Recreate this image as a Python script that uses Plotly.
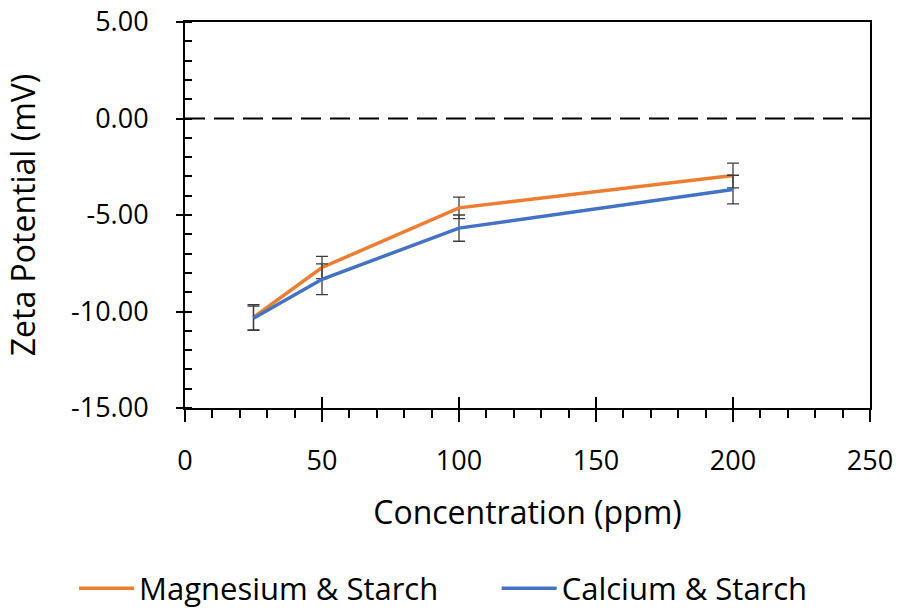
import plotly.graph_objects as go

concentration = [25, 50, 100, 200]
mg_starch = [-10.30, -7.72, -4.63, -2.95]
mg_err = [0.65, 0.58, 0.56, 0.64]
ca_starch = [-10.35, -8.33, -5.68, -3.68]
ca_err = [0.63, 0.80, 0.68, 0.74]
y_tick_values = [5, 0, -5, -10, -15]
y_tick_labels = ["5.00", "0.00", "-5.00", "-10.00", "-15.00"]

FONT = "Open Sans"
ORANGE = "#ED7D31"
BLUE = "#4472C4"
ERR = "#3c3c3c"

fig = go.Figure()
fig.add_trace(go.Scatter(
    x=concentration, y=mg_starch, mode="lines", name="Magnesium & Starch",
    line=dict(color=ORANGE, width=3.5), legend="legend",
    error_y=dict(type="data", array=mg_err, color=ERR, thickness=1.3, width=6),
))
fig.add_trace(go.Scatter(
    x=concentration, y=ca_starch, mode="lines", name="Calcium & Starch",
    line=dict(color=BLUE, width=3.5), legend="legend2",
    error_y=dict(type="data", array=ca_err, color=ERR, thickness=1.3, width=6),
))
# invisible trace to carry the inside-tick overlay axis
fig.add_trace(go.Scatter(x=[0, 250], y=[-15, 5], mode="markers", xaxis="x2",
                         marker=dict(opacity=0), showlegend=False, hoverinfo="skip"))

fig.add_shape(type="line", xref="paper", x0=0, x1=1, yref="y", y0=0, y1=0,
              line=dict(color="black", width=2, dash="20px,9px"), layer="below")

legend_common = dict(orientation="h", yanchor="middle", y=-0.468, xanchor="left",
                     font=dict(size=31), itemwidth=55, bgcolor="rgba(0,0,0,0)")

fig.update_layout(
    width=901, height=613,
    margin=dict(l=185, r=31, t=22, b=205, autoexpand=False),
    plot_bgcolor="white", paper_bgcolor="white",
    font=dict(family=FONT, size=27, color="black"),
    xaxis=dict(
        range=[0, 250], dtick=50, tick0=0, showgrid=False, zeroline=False,
        showline=True, linecolor="black", linewidth=2, mirror=True, automargin=False,
        ticks="outside", ticklen=12, tickwidth=2, tickcolor="black",
        minor=dict(dtick=10, ticks="outside", ticklen=8, tickwidth=1.5, tickcolor="black", showgrid=False),
        title=dict(text="Concentration (ppm)", font=dict(size=32), standoff=24),
        tickfont=dict(size=27), ticklabelstandoff=16,
    ),
    xaxis2=dict(
        range=[0, 250], dtick=50, tick0=0, overlaying="x", side="bottom",
        showgrid=False, zeroline=False, showline=False, showticklabels=False,
        ticks="inside", ticklen=11, tickwidth=2, tickcolor="black", automargin=False,
    ),
    yaxis=dict(
        range=[-15, 5], tickvals=y_tick_values, ticktext=y_tick_labels,
        showgrid=False, zeroline=False, automargin=False,
        showline=True, linecolor="black", linewidth=2, mirror=True,
        ticks="outside", ticklen=7, tickwidth=2, tickcolor="black",
        minor=dict(dtick=1, ticks="inside", ticklen=7, tickwidth=1.5, tickcolor="black", showgrid=False),
        tickfont=dict(size=27), ticklabelstandoff=22,
        title=dict(text="Zeta Potential (mV)", font=dict(size=32), standoff=26),
    ),
    legend=dict(x=-0.162, **legend_common),
    legend2=dict(x=0.455, **legend_common),
    showlegend=True,
)

fig.write_html("out.html")
